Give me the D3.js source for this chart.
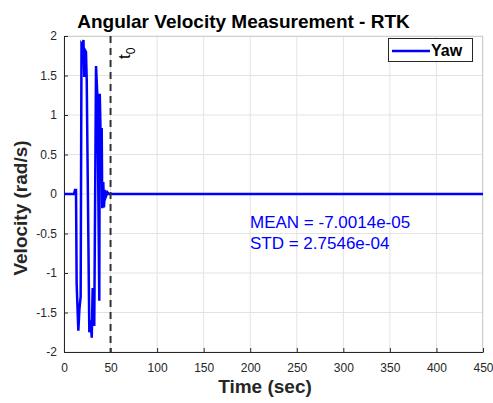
<!DOCTYPE html>
<html>
<head>
<meta charset="utf-8">
<title>Angular Velocity Measurement - RTK</title>
<script src="https://d3js.org/d3.v7.min.js"></script>
<style>
  body { margin: 0; background: #fff; }
  text { font-family: "Liberation Sans", Arial, sans-serif; }
</style>
</head>
<body>
<div id="chart"></div>
<script>
// yaw rate samples (time in sec, velocity in rad/s)
const timeSec = [0, 10.7, 11.8, 12.9, 13.6, 15.4, 16.6, 17.9, 18.8, 19.9, 20.9, 21.8, 22.6, 23.6, 24.4,
  27.2, 28.5, 29.8, 30.8, 32.5, 34.4, 35.8, 36.5, 37.9, 38.4, 39.2, 40.5, 41.1, 42.2, 42.9, 44.0,
  45.1, 46.7, 48.3, 450];
const yawVals = [0, 0, 0.05, 0.05, -1.14, -1.73, -1.45, -1.3, 1.9, 1.88, 1.95, 1.48, 1.82, 1.8, 1.45,
  -1.75, -1.6, -1.82, -1.19, -1.67, 1.62, 1.25, 0.5, -1.35, 1.27, 0.82, 0.82, -0.18, 0.15, -0.17, 0.05,
  -0.03, 0.02, 0, 0];

const xTicks = [0, 50, 100, 150, 200, 250, 300, 350, 400, 450];
const yTicks = [-2, -1.5, -1, -0.5, 0, 0.5, 1, 1.5, 2];
const t0 = 50;
const statLines = ["MEAN = -7.0014e-05", "STD = 2.7546e-04"];

const width = 493, height = 403;
const margin = { top: 36, right: 10, bottom: 51, left: 64 };
const w = width - margin.left - margin.right;
const h = height - margin.top - margin.bottom;

const svg = d3.select("#chart").append("svg")
  .attr("width", width)
  .attr("height", height);

const g = svg.append("g")
  .attr("transform", "translate(" + margin.left + "," + margin.top + ")");

const x = d3.scaleLinear().domain([0, 450]).range([0, w]);
const y = d3.scaleLinear().domain([-2, 2]).range([h, 0]);

// grid
g.append("g").selectAll("line").data(xTicks).enter().append("line")
  .attr("x1", d => x(d)).attr("x2", d => x(d))
  .attr("y1", 0).attr("y2", h)
  .attr("stroke", "#e3e3e3").attr("stroke-width", 1);
g.append("g").selectAll("line").data(yTicks).enter().append("line")
  .attr("x1", 0).attr("x2", w)
  .attr("y1", d => y(d)).attr("y2", d => y(d))
  .attr("stroke", "#e3e3e3").attr("stroke-width", 1);

// top/right box edges (light)
g.append("line").attr("x1", 0).attr("x2", w).attr("y1", 0.5).attr("y2", 0.5)
  .attr("stroke", "#d0d0d0");
g.append("line").attr("x1", w - 0.5).attr("x2", w - 0.5).attr("y1", 0).attr("y2", h)
  .attr("stroke", "#d0d0d0");

// axes
const xAxis = g.append("g")
  .attr("transform", "translate(0," + h + ")")
  .call(d3.axisBottom(x).tickValues(xTicks).tickSizeInner(-4).tickSizeOuter(0).tickPadding(11)
    .tickFormat(d3.format("d")));
const yAxis = g.append("g")
  .call(d3.axisLeft(y).tickValues(yTicks).tickSizeInner(-4).tickSizeOuter(0).tickPadding(7)
    .tickFormat(d => String(d)));

[xAxis, yAxis].forEach(a => {
  a.select(".domain").attr("stroke", "#262626");
  a.selectAll(".tick line").attr("stroke", "#262626");
  a.selectAll(".tick text").attr("fill", "#262626")
    .style("font-size", "12px").style("font-family", "Liberation Sans, Arial, sans-serif");
});

// signal
const pts = timeSec.map((t, i) => [t, yawVals[i]]);
const line = d3.line().x(d => x(d[0])).y(d => y(d[1]));
g.append("path")
  .datum(pts)
  .attr("d", line)
  .attr("fill", "none")
  .attr("stroke", "#0000ff")
  .attr("stroke-width", 2.5)
  .attr("stroke-linejoin", "miter");

// t0 marker
g.append("line")
  .attr("x1", x(t0)).attr("x2", x(t0))
  .attr("y1", 0).attr("y2", h)
  .attr("stroke", "#333333")
  .attr("stroke-width", 2)
  .attr("stroke-dasharray", "7,5");

const t0Label = svg.append("text")
  .attr("transform", "translate(" + (margin.left + x(t0) + 19) + ",59) rotate(-90)")
  .style("font-size", "17px")
  .attr("fill", "#000");
t0Label.append("tspan").text("t");
t0Label.append("tspan").attr("dy", 5).style("font-size", "12px").text("0");

// stats text
svg.selectAll(".stat").data(statLines).enter().append("text")
  .attr("x", 250)
  .attr("y", (d, i) => 228 + i * 21)
  .attr("fill", "#0000ff")
  .style("font-size", "17px")
  .text(d => d);

// legend
const leg = svg.append("g");
leg.append("rect")
  .attr("x", 388.5).attr("y", 38.5)
  .attr("width", 84).attr("height", 23)
  .attr("fill", "#fff").attr("stroke", "#262626").attr("stroke-width", 1);
leg.append("line")
  .attr("x1", 392).attr("x2", 430).attr("y1", 51).attr("y2", 51)
  .attr("stroke", "#0000ff").attr("stroke-width", 2.5);
leg.append("text")
  .attr("x", 431).attr("y", 56)
  .style("font-size", "16px").style("font-weight", "bold")
  .attr("fill", "#000")
  .text("Yaw");

// title and axis labels
svg.append("text")
  .attr("x", 243.5).attr("y", 28)
  .attr("text-anchor", "middle")
  .style("font-size", "19px").style("font-weight", "bold")
  .text("Angular Velocity Measurement - RTK");

svg.append("text")
  .attr("x", 265).attr("y", 393)
  .attr("text-anchor", "middle")
  .style("font-size", "19px").style("font-weight", "bold")
  .attr("fill", "#262626")
  .text("Time (sec)");

svg.append("text")
  .attr("transform", "translate(27,208) rotate(-90)")
  .attr("text-anchor", "middle")
  .style("font-size", "19px").style("font-weight", "bold")
  .attr("fill", "#262626")
  .text("Velocity (rad/s)");
</script>
</body>
</html>
